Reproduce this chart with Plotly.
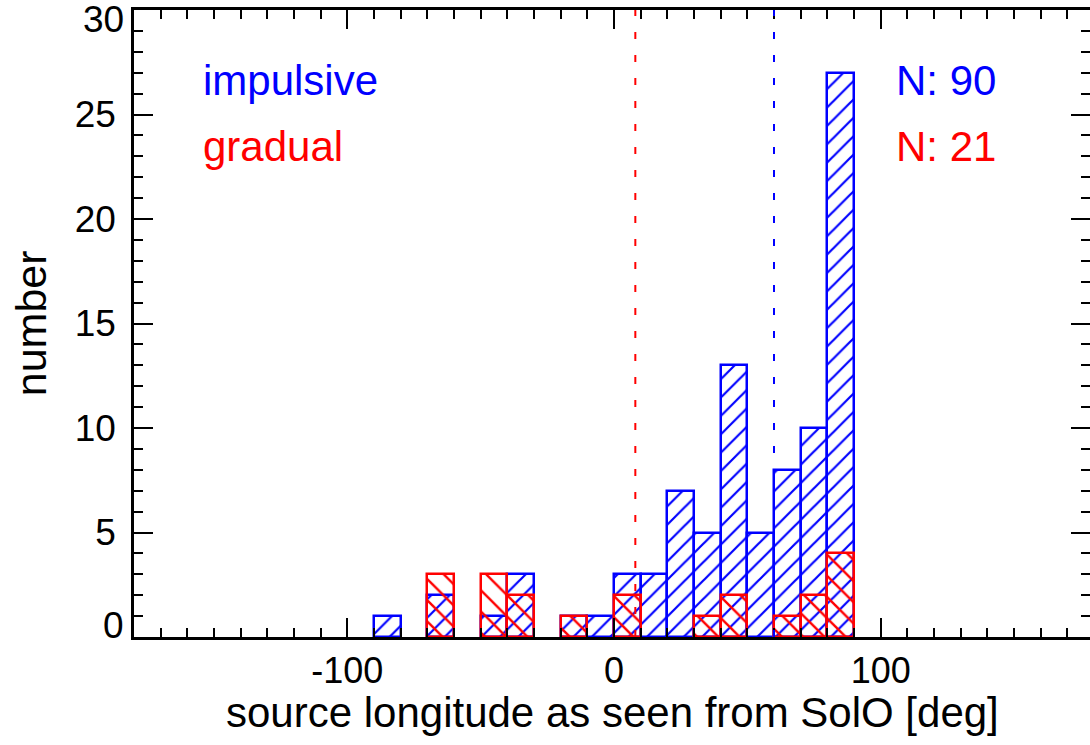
import plotly.graph_objects as go

# Histogram of source longitude (10-degree bins from -90 to 90 deg)
bin_left = [-90, -80, -70, -60, -50, -40, -30, -20, -10, 0, 10, 20, 30, 40, 50, 60, 70, 80]
bin_width = 10
impulsive_counts = [1, 0, 2, 0, 1, 3, 0, 1, 1, 3, 3, 7, 5, 13, 5, 8, 10, 27]
gradual_counts = [0, 0, 3, 0, 3, 2, 0, 1, 0, 2, 0, 0, 1, 2, 0, 1, 2, 4]
impulsive_median = 60
gradual_median = 8
impulsive_label = "impulsive"
gradual_label = "gradual"
x_title = "source longitude as seen from SolO [deg]"
y_title = "number"
x_tickvals = [-100, 0, 100]
x_ticktext = ["-100", "0", "100"]
y_tickvals = [0, 5, 10, 15, 20, 25, 30]

BLUE = "#0000ff"
RED = "#ff0000"
FONT = "Liberation Sans, Arial, Helvetica, sans-serif"
TICK_SIZE = 37

centers = [b + bin_width / 2 for b in bin_left]
n_imp = sum(impulsive_counts)
n_grad = sum(gradual_counts)


def nonzero(vals):
    # empty bins are left undrawn
    return [v if v else None for v in vals]


fig = go.Figure()

fig.add_trace(go.Bar(
    x=centers, y=nonzero(impulsive_counts), width=bin_width, opacity=1,
    marker=dict(
        color="rgba(0,0,0,0)",
        line=dict(color=BLUE, width=2.5),
        pattern=dict(shape="/", fgcolor=BLUE, bgcolor="rgba(0,0,0,0)",
                     fgopacity=1, size=13, solidity=0.17),
    ),
    showlegend=False,
))
fig.add_trace(go.Bar(
    x=centers, y=nonzero(gradual_counts), width=bin_width, opacity=1,
    marker=dict(
        color="rgba(0,0,0,0)",
        line=dict(color=RED, width=2.5),
        pattern=dict(shape="\\", fgcolor=RED, bgcolor="rgba(0,0,0,0)",
                     fgopacity=1, size=15, solidity=0.16),
    ),
    showlegend=False,
))

# median longitudes
for xm, col in [(gradual_median, RED), (impulsive_median, BLUE)]:
    fig.add_shape(type="line", xref="x", yref="paper", x0=xm, x1=xm, y0=0, y1=1,
                  line=dict(color=col, width=2, dash="7px,16px"), layer="above")

# labels
ann_font = dict(family=FONT, size=42)
fig.add_annotation(x=-155, y=26.65, text=impulsive_label, showarrow=False,
                   xanchor="left", yanchor="middle", font=dict(ann_font, color=BLUE))
fig.add_annotation(x=-155, y=23.45, text=gradual_label, showarrow=False,
                   xanchor="left", yanchor="middle", font=dict(ann_font, color=RED))
fig.add_annotation(x=105, y=26.65, text=f"N: {n_imp}", showarrow=False,
                   xanchor="left", yanchor="middle", font=dict(ann_font, color=BLUE))
fig.add_annotation(x=105, y=23.45, text=f"N: {n_grad}", showarrow=False,
                   xanchor="left", yanchor="middle", font=dict(ann_font, color=RED))

# axis titles
fig.add_annotation(xref="paper", yref="paper", x=0.5, y=-0.1205, text=x_title,
                   showarrow=False, xanchor="center", yanchor="middle",
                   font=dict(family=FONT, size=42, color="black"))
fig.add_annotation(xref="paper", yref="paper", x=-0.108, y=0.5, text=y_title,
                   showarrow=False, xanchor="center", yanchor="middle", textangle=-90,
                   font=dict(family=FONT, size=43, color="black"))

# end labels of the y axis sit inside the frame
y_ticktext = [str(v) for v in y_tickvals]
y_ticktext_inner = [""] + y_ticktext[1:-1] + [""]
for v, txt, shift in [(y_tickvals[0], y_ticktext[0], 12), (y_tickvals[-1], y_ticktext[-1], -9)]:
    fig.add_annotation(xref="paper", yref="y", x=0, y=v, text=txt, showarrow=False,
                       xanchor="right", yanchor="middle", xshift=-8, yshift=shift,
                       font=dict(family=FONT, size=TICK_SIZE, color="black"))

axis_common = dict(
    showgrid=False, zeroline=False, automargin=False,
    showline=True, linecolor="black", linewidth=2.5,
    mirror="allticks", ticks="inside", tickcolor="black", tickwidth=2,
    ticklabeloverflow="allow",
)

fig.update_xaxes(
    range=[-180, 178.5], tickmode="array", tickvals=x_tickvals, ticktext=x_ticktext,
    ticklen=19, tickfont=dict(family=FONT, size=36, color="black"),
    minor=dict(dtick=10, tick0=0, ticklen=9, tickwidth=2, ticks="inside", tickcolor="black"),
    ticklabelstandoff=0,
    **axis_common,
)
fig.update_yaxes(
    range=[0, 30], tickmode="array", tickvals=y_tickvals, ticktext=y_ticktext_inner,
    ticklen=19, tickfont=dict(family=FONT, size=TICK_SIZE, color="black"),
    minor=dict(dtick=1, tick0=0, ticklen=9, tickwidth=2, ticks="inside", tickcolor="black"),
    ticklabelstandoff=8,
    **axis_common,
)

fig.update_layout(
    width=1090, height=745,
    margin=dict(l=134, r=0, t=10, b=108),
    barmode="overlay", bargap=0,
    plot_bgcolor="white", paper_bgcolor="white",
    font=dict(family=FONT, color="black"),
)

fig.write_html("out.html")
